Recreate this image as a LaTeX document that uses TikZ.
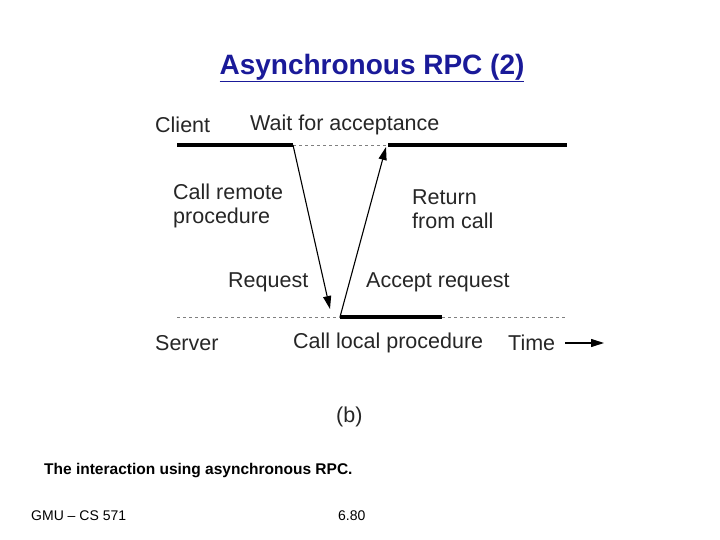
\documentclass[tikz,border=0pt]{standalone}
\usepackage{fontspec}
\setmainfont{Liberation Sans}
\usetikzlibrary{arrows.meta}
\definecolor{ttl}{HTML}{1A1A99}
\begin{document}
\begin{tikzpicture}[x=1pt,y=-1pt,
  lbl/.style={anchor=west,inner sep=0pt,font=\fontsize{21.5}{24}\selectfont,text=black!85},
  thick line/.style={line width=4pt},
  dash line/.style={dashed,line width=0.8pt,gray},
  arr/.style={line width=1.1pt,-{Triangle[length=13pt,width=8pt]}}]
\useasboundingbox (0,0) rectangle (720,540);
\node[font=\bfseries\fontsize{28}{32}\selectfont,text=ttl,inner sep=0pt] (title) at (372,68) {\underline{Asynchronous RPC (2)}};
\node[lbl] (client) at (155,125) {Client};
\node[lbl] (wait) at (250,125) {Wait for acceptance};
\coordinate (c1) at (177,145); \coordinate (c2) at (293,145);
\coordinate (c3) at (388,145); \coordinate (c4) at (567,145);
\draw[thick line] (c1) -- (c2);
\draw[dash line] (c2) -- (c3);
\draw[thick line] (c3) -- (c4);
\coordinate (s1) at (177,317); \coordinate (s2) at (340,317);
\coordinate (s3) at (442,317); \coordinate (s4) at (567,317);
\draw[dash line] (s1) -- (s2);
\draw[dash line] (s3) -- (s4);
\draw[thick line] (s2) -- (s3);
\draw[arr] (c2) -- (330,309);
\draw[arr] (s2) -- (386,147);
\node[lbl,align=left] (call) at (173,206) {Call remote\\procedure};
\node[lbl,align=left] (ret) at (412,209) {Return\\from call};
\node[lbl] (req) at (228,282) {Request};
\node[lbl] (acc) at (366,282) {Accept request};
\node[lbl] (server) at (155,343) {Server};
\node[lbl] (local) at (293,343) {Call local procedure};
\node[lbl] (time) at (508,343) {Time};
\coordinate (t1) at (565,343); \coordinate (t2) at (604,343);
\draw[arr] (t1) -- (t2);
\node[lbl] (b) at (336,417) {(b)};
\node[anchor=west,inner sep=0pt,font=\bfseries\fontsize{15.5}{17}\selectfont] (cap) at (44,471) {The interaction using asynchronous RPC.};
\node[anchor=west,inner sep=0pt,font=\fontsize{14}{16}\selectfont] (gmu) at (31,516) {GMU -- CS 571};
\node[anchor=west,inner sep=0pt,font=\fontsize{14}{16}\selectfont] (pg) at (338,516) {6.80};
\end{tikzpicture}
\end{document}
